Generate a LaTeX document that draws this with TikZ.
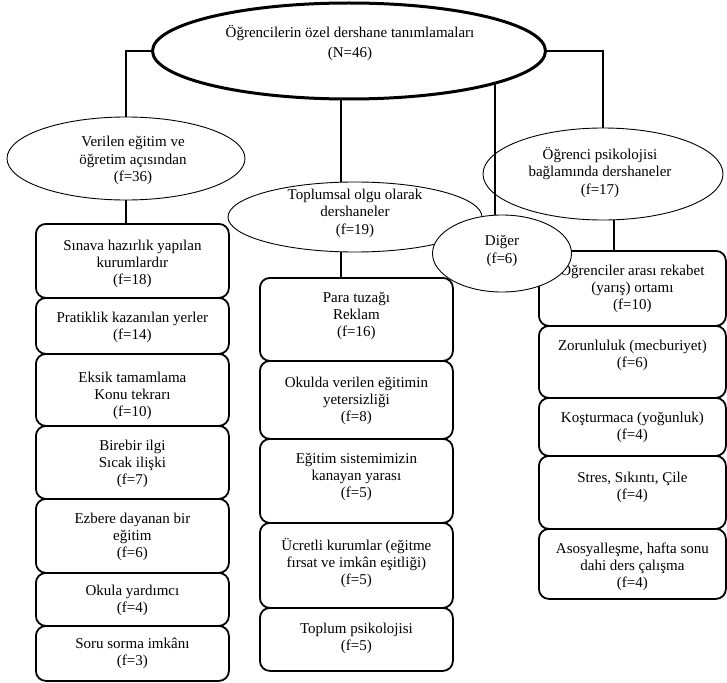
\documentclass[tikz,border=0pt]{standalone}
\usepackage{fontspec}
\setmainfont{Liberation Serif}
\usetikzlibrary{shapes.geometric}
\tikzset{
  ell/.style={draw, ellipse, inner sep=0pt, line width=0.9pt},
  bigell/.style={draw, ellipse, inner sep=0pt, line width=3pt, fill=white},
  box/.style={draw, rounded corners=10pt, line width=1.8pt, inner sep=0pt},
  txt/.style={align=center, inner sep=0pt, font=\fontsize{15}{17.5}\selectfont},
  conn/.style={line width=1.8pt},
}
\newcommand{\tbox}[7]{%
  \node[box, anchor=north west] (#1) at (#2,#3)
  {\parbox[c][#5pt][t]{#4pt}{\centering\fontsize{15}{17.25}\selectfont\rule{0pt}{#6pt}#7\par}};}
\begin{document}
\begin{tikzpicture}[x=1pt,y=-1pt]
\useasboundingbox (0,0) rectangle (727,682);

% ellipse positions (coordinates used before the nodes are drawn)
\coordinate (topc) at (349,51);
\coordinate (lftc) at (126,158.5);
\coordinate (midc) at (355,217);
\coordinate (psyc) at (603,174);
\coordinate (digc) at (502,253.5);

% lower ellipses
\node[ell, minimum width=238pt, minimum height=83pt] (lft) at (lftc) {};
\node[ell, minimum width=254pt, minimum height=70pt] (mid) at (midc) {};
\node[ell, minimum width=240pt, minimum height=92pt] (psy) at (psyc) {};

% boxes: left column
\tbox{l1}{35}{223}{193}{74}{26.5}{Sınava hazırlık yapılan\\kurumlardır\\(f=18)}
\tbox{l2}{35}{297}{193}{56}{24.5}{Pratiklik kazanılan  yerler\\(f=14)}
\tbox{l3}{35}{353}{193}{72}{28.5}{Eksik tamamlama\\Konu tekrarı\\(f=10)}
\tbox{l4}{35}{425}{193}{73}{24.5}{Birebir ilgi\\Sıcak ilişki\\(f=7)}
\tbox{l5}{35}{498}{193}{74}{24.5}{Ezbere dayanan bir\\eğitim\\(f=6)}
\tbox{l6}{35}{572}{193}{53}{22.5}{Okula yardımcı\\(f=4)}
\tbox{l7}{35}{625}{193}{55}{22.5}{Soru sorma imkânı\\(f=3)}

% boxes: middle column
\tbox{m1}{259}{277}{193}{83}{24.5}{Para tuzağı\\Reklam\\(f=16)}
\tbox{m2}{259}{360}{193}{78}{26.5}{Okulda verilen eğitimin\\yetersizliği\\(f=8)}
\tbox{m3}{259}{438}{193}{84}{24.5}{Eğitim sistemimizin\\kanayan yarası\\(f=5)}
\tbox{m4}{259}{522}{193}{85}{27.5}{Ücretli kurumlar (eğitme\\fırsat ve imkân eşitliği)\\(f=5)}
\tbox{m5}{259}{607}{193}{63}{25.5}{Toplum psikolojisi\\(f=5)}

% boxes: right column
\tbox{r1}{538}{250}{187}{75}{24.5}{Öğrenciler arası rekabet\\(yarış) ortamı\\(f=10)}
\tbox{r2}{538}{325}{187}{72}{24.5}{Zorunluluk (mecburiyet)\\(f=6)}
\tbox{r3}{538}{397}{187}{58}{24.5}{Koşturmaca (yoğunluk)\\(f=4)}
\tbox{r4}{538}{455}{187}{73}{26.5}{Stres, Sıkıntı, Çile\\(f=4)}
\tbox{r5}{538}{528}{187}{70}{24.5}{Asosyalleşme, hafta sonu\\dahi ders çalışma\\(f=4)}

% connectors
\draw[conn] (topc) -| (lft.north);
\draw[conn] (topc) -| (psy.north);
\draw[conn] ([xshift=-14pt]mid.north |- topc) -- ([xshift=-14pt]mid.north);
\draw[conn] ([xshift=-7pt]digc |- topc) -- ([xshift=-7pt]digc);
\draw[conn] (lft.south) -- (lft.south |- l1.north);
\draw[conn] ([xshift=-14pt]mid.south) -- ([xshift=-14pt]mid.south |- m1.north);
\draw[conn] ([xshift=11pt]psy.south) -- ([xshift=11pt]psy.south |- r1.north);

% top ellipse and Diğer ellipse (filled, drawn over connectors)
\node[bigell, minimum width=393pt, minimum height=96pt] (top) at (topc) {};
\node[ell, fill=white, minimum width=139pt, minimum height=77pt] (dig) at (digc) {};

% ellipse texts
\node[txt, font=\fontsize{15}{20}\selectfont] (topt) at (350,43.5) {Öğrencilerin özel dershane tanımlamaları\\(N=46)};
\node[txt] (lftt) at (133,160.5) {Verilen eğitim  ve\\öğretim açısından\\(f=36)};
\node[txt] (midt) at (355,213) {Toplumsal olgu  olarak\\dershaneler\\(f=19)};
\node[txt] (psyt) at (600,172.5) {Öğrenci psikolojisi\\bağlamında dershaneler\\(f=17)};
\node[txt] (digt) at (502,251) {Diğer\\(f=6)};
\end{tikzpicture}
\end{document}
